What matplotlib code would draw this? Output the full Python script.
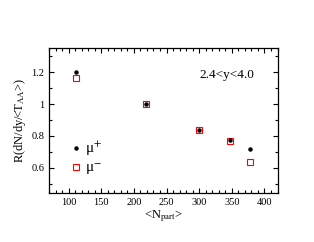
import numpy as np
import matplotlib
matplotlib.use("Agg")
import matplotlib.pyplot as plt
from matplotlib.ticker import MultipleLocator

plt.rcParams['font.family'] = ['Liberation Serif', 'DejaVu Serif']
plt.rcParams['mathtext.fontset'] = 'stix'

npart = [111, 219, 299, 348, 378]
r_plus = [1.20, 1.00, 0.836, 0.775, 0.717]
r_minus = [1.162, 1.00, 0.84, 0.767, 0.637]

fig = plt.figure(figsize=(3.14, 2.42), dpi=100)
ax = fig.add_axes([49 / 314, 1 - 192.7 / 242, 228.5 / 314, 144.7 / 242])

ax.plot(npart, r_minus, 's', color='red', mfc='none', mec='red', mew=0.8, ms=4.0, label='μ$^{-}$')
ax.plot(npart, r_plus, 'o', color='black', ms=2.2, label='μ$^{+}$', zorder=3)

ax.set_xlim(70, 420)
ax.set_ylim(0.443, 1.353)
ax.xaxis.set_major_locator(MultipleLocator(50))
ax.xaxis.set_minor_locator(MultipleLocator(10))
ax.yaxis.set_major_locator(MultipleLocator(0.2))
ax.yaxis.set_minor_locator(MultipleLocator(0.1))
ax.yaxis.set_major_formatter(plt.FuncFormatter(lambda v, p: f"{v:g}"))
ax.tick_params(which='both', direction='in', top=True, right=True, labelsize=7.5, width=0.8)
ax.tick_params(which='major', length=3.5)
ax.tick_params(which='minor', length=2)
for s in ax.spines.values():
    s.set_linewidth(0.9)

ax.set_xlabel(r'<N$_{\mathrm{part}}$>', fontsize=9, labelpad=1)
ax.set_ylabel(r'R(dN/dy/<T$_{\mathrm{AA}}$>)', fontsize=9, labelpad=2)
ax.text(0.66, 0.79, '2.4<y<4.0', transform=ax.transAxes, fontsize=9.5)

handles, labels = ax.get_legend_handles_labels()
ax.legend(handles[::-1], labels[::-1], loc='center left', bbox_to_anchor=(0.03, 0.235),
          frameon=False, handlelength=0.8, handletextpad=0.2, labelspacing=0.2, fontsize=11)

fig.savefig('out.png', dpi=100)
